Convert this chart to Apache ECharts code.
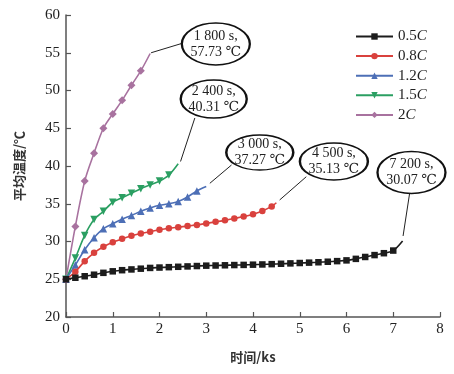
<!DOCTYPE html>
<html><head><meta charset="utf-8">
<script src="https://cdn.jsdelivr.net/npm/echarts@6/dist/echarts.min.js"></script>
<style>html,body{margin:0;padding:0;background:#fff}#c{width:454px;height:374px}</style>
</head><body><div id="c"></div>
<script>
// ---- data ----
const seriesNames = ['0.5C', '0.8C', '1.2C', '1.5C', '2C'];
const t05 = [0,0.2,0.4,0.6,0.8,1.0,1.2,1.4,1.6,1.8,2.0,2.2,2.4,2.6,2.8,3.0,3.2,3.4,3.6,3.8,4.0,4.2,4.4,4.6,4.8,5.0,5.2,5.4,5.6,5.8,6.0,6.2,6.4,6.6,6.8,7.0,7.2];
const v05 = [25.0,25.2,25.4,25.6,25.85,26.05,26.2,26.3,26.4,26.5,26.55,26.6,26.65,26.7,26.75,26.8,26.82,26.85,26.88,26.9,26.93,26.96,27.0,27.05,27.1,27.15,27.2,27.25,27.32,27.4,27.5,27.7,27.95,28.2,28.45,28.8,30.07];
const t08 = [0,0.2,0.4,0.6,0.8,1.0,1.2,1.4,1.6,1.8,2.0,2.2,2.4,2.6,2.8,3.0,3.2,3.4,3.6,3.8,4.0,4.2,4.4,4.5];
const v08 = [25.0,26.0,27.4,28.5,29.3,29.9,30.35,30.75,31.05,31.3,31.55,31.75,31.9,32.05,32.2,32.4,32.6,32.8,33.05,33.3,33.6,34.05,34.65,35.13];
const t12 = [0,0.2,0.4,0.6,0.8,1.0,1.2,1.4,1.6,1.8,2.0,2.2,2.4,2.6,2.8,3.0];
const v12 = [25.0,26.9,28.9,30.5,31.7,32.35,32.95,33.45,34.0,34.45,34.8,35.0,35.3,35.9,36.7,37.27];
const t15 = [0,0.2,0.4,0.6,0.8,1.0,1.2,1.4,1.6,1.8,2.0,2.2,2.4];
const v15 = [25.0,27.8,30.8,32.9,34.0,35.2,35.8,36.4,37.0,37.5,38.0,38.8,40.31];
const t20 = [0,0.2,0.4,0.6,0.8,1.0,1.2,1.4,1.6,1.8];
const v20 = [25.0,32.0,38.0,41.7,45.0,46.9,48.7,50.7,52.6,54.9];
const calloutTexts = ['1 800 s,\n57.73 ℃', '3 000 s,\n37.27 ℃', '2 400 s,\n40.31 ℃', '4 500 s,\n35.13 ℃', '7 200 s,\n30.07 ℃'];
const yTicks = [20,25,30,35,40,45,50,55,60];
const xTicks = [0,1,2,3,4,5,6,7,8];

// ---- layout / style (not data) ----
const colors = ['#1c1c1c', '#d9413d', '#4d6fb6', '#2b9f62', '#a8729f'];
const symbols = ['rect', 'circle', 'triangle', 'triangle', 'diamond'];
const symRot = [0, 0, 0, 180, 0];
const symSize = [6.5, 6.5, 7.5, 7.5, 8];
// callout ellipse centres (data coords) and sizes, leader lines [from, to]
const calloutLayout = [
  {s: 4, c: [3.205, 56.16], size: [68, 42], line: [[1.82, 55.0], [2.485, 56.25]], text: 0},
  {s: 3, c: [3.16, 48.87], size: [66, 38], line: [[2.45, 40.6], [2.756, 46.36]], text: 2},
  {s: 2, c: [4.145, 41.79], size: [67, 35], line: [[3.077, 37.71], [3.54, 40.13]], text: 1},
  {s: 1, c: [5.73, 40.6], size: [68, 37], line: [[4.57, 35.5], [5.14, 38.58]], text: 3},
  {s: 0, c: [7.39, 39.14], size: [68, 42], line: [[7.21, 30.73], [7.35, 36.38]], text: 4}
];
const ellipsePath = 'path://M0,100 C0,44.77 44.77,0 100,0 C155.23,0 200,44.77 200,100 C200,155.23 155.23,200 100,200 C44.77,200 0,155.23 0,100 Z';

const ts = [t05, t08, t12, t15, t20];
const vs = [v05, v08, v12, v15, v20];
const serif = '"Liberation Serif", "DejaVu Serif", serif';
const cjk = '"Noto Sans CJK SC", sans-serif';

const series = seriesNames.map((name, i) => {
  const data = ts[i].map((t, j) => {
    const item = {value: [t, vs[i][j]]};
    if (j === ts[i].length - 1) item.symbol = 'none';
    return item;
  });
  const cl = calloutLayout.filter(c => c.s === i);
  return {
    name, type: 'line', data, smooth: 0.3,
    symbol: symbols[i], symbolRotate: symRot[i], symbolSize: symSize[i],
    itemStyle: {color: colors[i]},
    lineStyle: {color: colors[i], width: 1.6},
    z: 10 - i,
    markPoint: {
      silent: true,
      symbol: ellipsePath,
      symbolKeepAspect: false,
      data: cl.map(c => ({
        coord: c.c, symbolSize: c.size,
        itemStyle: {color: '#fff', borderColor: '#111', borderWidth: 1.8},
        label: {show: true, position: 'inside', formatter: calloutTexts[c.text], color: '#222', fontSize: 14, lineHeight: 16, fontFamily: serif}
      }))
    },
    markLine: {
      silent: true, symbol: ['none', 'none'],
      lineStyle: {color: '#222', width: 1, type: 'solid'},
      label: {show: false},
      data: cl.map(c => [{coord: c.line[0]}, {coord: c.line[1]}])
    }
  };
});

const chart = echarts.init(document.getElementById('c'), null, {renderer: 'canvas'});
chart.setOption({
  backgroundColor: '#fff',
  animation: false,
  grid: {left: 66, right: 14, top: 15, bottom: 57, containLabel: false},
  legend: {
    orient: 'vertical', left: 350, top: 24, itemWidth: 37, itemHeight: 8, itemGap: 4.6,
    data: seriesNames,
    formatter: n => n.replace('C', '{i|C}'),
    textStyle: {fontFamily: serif, fontSize: 15, color: '#222', rich: {i: {fontStyle: 'italic', fontFamily: serif, fontSize: 15, color: '#222'}}}
  },
  xAxis: {
    type: 'value', min: xTicks[0], max: xTicks[xTicks.length - 1], interval: 1,
    name: '时间/ks', nameLocation: 'middle', nameGap: 34,
    nameTextStyle: {fontFamily: cjk, fontSize: 13, fontWeight: 'bold', color: '#333'},
    axisLine: {lineStyle: {color: '#555', width: 1.5}},
    axisTick: {inside: true, length: 5, lineStyle: {color: '#555', width: 1.2}},
    axisLabel: {fontFamily: serif, fontSize: 15, color: '#222', margin: 5},
    splitLine: {show: false}
  },
  yAxis: {
    type: 'value', min: yTicks[0], max: yTicks[yTicks.length - 1], interval: 5,
    name: '平均温度/℃', nameLocation: 'middle', nameGap: 40,
    nameTextStyle: {fontFamily: cjk, fontSize: 13, fontWeight: 'bold', color: '#333'},
    axisLine: {show: true, lineStyle: {color: '#555', width: 1.5}},
    axisTick: {show: true, inside: true, length: 5, lineStyle: {color: '#555', width: 1.2}},
    axisLabel: {fontFamily: serif, fontSize: 15, color: '#222', margin: 6},
    splitLine: {show: false}
  },
  series
});
</script>
</body></html>
